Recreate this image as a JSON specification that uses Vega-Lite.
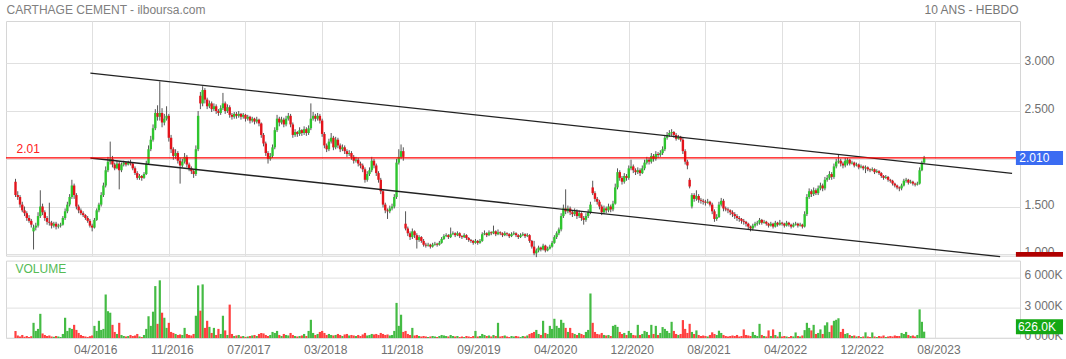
{
"$schema":"https://vega.github.io/schema/vega-lite/v6.json",
"padding":{"left":4,"top":3,"right":0,"bottom":0},
"background":"white",
"bounds":"flush",
"spacing":4.6,
"resolve":{"scale":{"x":"independent","y":"independent"}},
"config":{"font":"Liberation Sans","view":{"stroke":"#d6d6d6"},
"axis":{"gridColor":"#e0e0e0","labelColor":"#707070","labelFontSize":12,"labelFont":"Liberation Sans","domain":false,"ticks":false,"tickSize":0,"titleFontWeight":"normal","titleColor":"#777777","titleFontSize":12,"titleFont":"Liberation Sans","labelOverlap":false,"labelFlush":false,"labelSeparation":0,"labelBound":false}},
"datasets":{"one":[{"k":1}],"px":[
{"i":0,"o":1.76,"h":1.79,"l":1.6,"c":1.62,"v":690},
{"i":1,"o":1.62,"h":1.66,"l":1.57,"c":1.6,"v":250},
{"i":2,"o":1.6,"h":1.62,"l":1.49,"c":1.52,"v":150},
{"i":3,"o":1.52,"h":1.55,"l":1.44,"c":1.46,"v":300},
{"i":4,"o":1.46,"h":1.5,"l":1.4,"c":1.43,"v":120},
{"i":5,"o":1.43,"h":1.45,"l":1.35,"c":1.38,"v":200},
{"i":6,"o":1.38,"h":1.41,"l":1.33,"c":1.35,"v":100},
{"i":7,"o":1.35,"h":1.37,"l":1.28,"c":1.31,"v":180},
{"i":8,"o":1.24,"h":1.31,"l":1.05,"c":1.28,"v":1500},
{"i":9,"o":1.28,"h":1.33,"l":1.25,"c":1.3,"v":700},
{"i":10,"o":1.3,"h":1.44,"l":1.28,"c":1.4,"v":900},
{"i":11,"o":1.4,"h":1.67,"l":1.38,"c":1.5,"v":2390},
{"i":12,"o":1.5,"h":1.53,"l":1.41,"c":1.44,"v":450},
{"i":13,"o":1.44,"h":1.46,"l":1.35,"c":1.38,"v":300},
{"i":14,"o":1.38,"h":1.4,"l":1.31,"c":1.34,"v":200},
{"i":15,"o":1.34,"h":1.54,"l":1.3,"c":1.33,"v":250},
{"i":16,"o":1.33,"h":1.35,"l":1.27,"c":1.3,"v":150},
{"i":17,"o":1.3,"h":1.34,"l":1.28,"c":1.32,"v":120},
{"i":18,"o":1.32,"h":1.34,"l":1.26,"c":1.29,"v":200},
{"i":19,"o":1.29,"h":1.32,"l":1.27,"c":1.3,"v":150},
{"i":20,"o":1.3,"h":1.33,"l":1.28,"c":1.31,"v":100},
{"i":21,"o":1.31,"h":1.4,"l":1.3,"c":1.38,"v":400},
{"i":22,"o":1.38,"h":1.48,"l":1.36,"c":1.45,"v":2000},
{"i":23,"o":1.45,"h":1.55,"l":1.43,"c":1.52,"v":700},
{"i":24,"o":1.52,"h":1.63,"l":1.5,"c":1.6,"v":1000},
{"i":25,"o":1.6,"h":1.78,"l":1.58,"c":1.72,"v":900},
{"i":26,"o":1.72,"h":1.74,"l":1.58,"c":1.62,"v":1300},
{"i":27,"o":1.62,"h":1.64,"l":1.47,"c":1.5,"v":800},
{"i":28,"o":1.5,"h":1.52,"l":1.43,"c":1.46,"v":500},
{"i":29,"o":1.46,"h":1.48,"l":1.41,"c":1.43,"v":300},
{"i":30,"o":1.43,"h":1.45,"l":1.39,"c":1.41,"v":200},
{"i":31,"o":1.41,"h":1.42,"l":1.36,"c":1.38,"v":150},
{"i":32,"o":1.38,"h":1.4,"l":1.33,"c":1.35,"v":100},
{"i":33,"o":1.35,"h":1.37,"l":1.28,"c":1.3,"v":180},
{"i":34,"o":1.3,"h":1.32,"l":1.24,"c":1.28,"v":250},
{"i":35,"o":1.28,"h":1.38,"l":1.27,"c":1.36,"v":1200},
{"i":36,"o":1.36,"h":1.48,"l":1.35,"c":1.46,"v":700},
{"i":37,"o":1.46,"h":1.54,"l":1.44,"c":1.52,"v":1700},
{"i":38,"o":1.52,"h":1.65,"l":1.5,"c":1.62,"v":800},
{"i":39,"o":1.62,"h":1.75,"l":1.6,"c":1.72,"v":900},
{"i":40,"o":1.72,"h":1.92,"l":1.7,"c":1.88,"v":4300},
{"i":41,"o":1.88,"h":2.02,"l":1.86,"c":1.97,"v":2650},
{"i":42,"o":1.97,"h":2.18,"l":1.94,"c":2.0,"v":2500},
{"i":43,"o":2.0,"h":2.03,"l":1.91,"c":1.94,"v":1300},
{"i":44,"o":1.94,"h":1.96,"l":1.88,"c":1.9,"v":600},
{"i":45,"o":1.9,"h":1.98,"l":1.89,"c":1.95,"v":400},
{"i":46,"o":1.95,"h":1.97,"l":1.68,"c":1.88,"v":1500},
{"i":47,"o":1.88,"h":1.96,"l":1.86,"c":1.94,"v":300},
{"i":48,"o":1.94,"h":1.98,"l":1.92,"c":1.96,"v":200},
{"i":49,"o":1.96,"h":1.97,"l":1.92,"c":1.94,"v":150},
{"i":50,"o":1.94,"h":1.98,"l":1.93,"c":1.96,"v":200},
{"i":51,"o":1.96,"h":1.99,"l":1.93,"c":1.95,"v":300},
{"i":52,"o":1.95,"h":1.96,"l":1.88,"c":1.9,"v":200},
{"i":53,"o":1.9,"h":1.92,"l":1.83,"c":1.85,"v":250},
{"i":54,"o":1.85,"h":1.87,"l":1.78,"c":1.8,"v":400},
{"i":55,"o":1.8,"h":1.84,"l":1.78,"c":1.82,"v":150},
{"i":56,"o":1.82,"h":1.83,"l":1.77,"c":1.8,"v":100},
{"i":57,"o":1.8,"h":1.86,"l":1.79,"c":1.84,"v":300},
{"i":58,"o":1.84,"h":1.98,"l":1.83,"c":1.95,"v":900},
{"i":59,"o":1.95,"h":2.14,"l":1.94,"c":2.1,"v":2150},
{"i":60,"o":2.1,"h":2.24,"l":2.08,"c":2.2,"v":1200},
{"i":61,"o":2.2,"h":2.36,"l":2.18,"c":2.32,"v":2600},
{"i":62,"o":2.32,"h":2.52,"l":2.3,"c":2.48,"v":5130},
{"i":63,"o":2.48,"h":2.56,"l":2.4,"c":2.44,"v":1400},
{"i":64,"o":2.44,"h":2.81,"l":2.4,"c":2.48,"v":5700},
{"i":65,"o":2.48,"h":2.53,"l":2.33,"c":2.38,"v":2500},
{"i":66,"o":2.38,"h":2.47,"l":2.35,"c":2.42,"v":2000},
{"i":67,"o":2.42,"h":2.55,"l":2.4,"c":2.45,"v":1000},
{"i":68,"o":2.45,"h":2.47,"l":2.18,"c":2.22,"v":1500},
{"i":69,"o":2.22,"h":2.25,"l":2.06,"c":2.1,"v":600},
{"i":70,"o":2.1,"h":2.12,"l":1.99,"c":2.03,"v":500},
{"i":71,"o":2.03,"h":2.1,"l":2.0,"c":2.06,"v":400},
{"i":72,"o":2.06,"h":2.08,"l":1.95,"c":1.98,"v":300},
{"i":73,"o":1.98,"h":2.01,"l":1.74,"c":1.93,"v":350},
{"i":74,"o":1.93,"h":2.0,"l":1.91,"c":1.97,"v":300},
{"i":75,"o":1.97,"h":2.06,"l":1.95,"c":2.02,"v":1000},
{"i":76,"o":2.02,"h":2.04,"l":1.91,"c":1.94,"v":400},
{"i":77,"o":1.94,"h":1.96,"l":1.87,"c":1.9,"v":300},
{"i":78,"o":1.9,"h":1.92,"l":1.84,"c":1.87,"v":250},
{"i":79,"o":1.87,"h":1.89,"l":1.8,"c":1.84,"v":400},
{"i":80,"o":1.84,"h":2.14,"l":1.82,"c":2.1,"v":2200},
{"i":81,"o":2.1,"h":2.5,"l":2.08,"c":2.45,"v":5200},
{"i":82,"o":2.66,"h":2.7,"l":2.52,"c":2.58,"v":2700},
{"i":83,"o":2.58,"h":2.76,"l":2.55,"c":2.72,"v":5300},
{"i":84,"o":2.72,"h":2.74,"l":2.58,"c":2.62,"v":1000},
{"i":85,"o":2.62,"h":2.64,"l":2.52,"c":2.55,"v":1700},
{"i":86,"o":2.55,"h":2.61,"l":2.53,"c":2.58,"v":1100},
{"i":87,"o":2.58,"h":2.6,"l":2.49,"c":2.52,"v":500},
{"i":88,"o":2.52,"h":2.58,"l":2.5,"c":2.55,"v":1000},
{"i":89,"o":2.55,"h":2.57,"l":2.47,"c":2.5,"v":300},
{"i":90,"o":2.5,"h":2.52,"l":2.45,"c":2.48,"v":900},
{"i":91,"o":2.48,"h":2.56,"l":2.46,"c":2.53,"v":400},
{"i":92,"o":2.53,"h":2.69,"l":2.51,"c":2.58,"v":2200},
{"i":93,"o":2.58,"h":2.6,"l":2.47,"c":2.5,"v":750},
{"i":94,"o":2.5,"h":2.57,"l":2.48,"c":2.54,"v":300},
{"i":95,"o":2.54,"h":2.56,"l":2.43,"c":2.46,"v":3300},
{"i":96,"o":2.46,"h":2.48,"l":2.41,"c":2.44,"v":400},
{"i":97,"o":2.44,"h":2.49,"l":2.42,"c":2.47,"v":200},
{"i":98,"o":2.47,"h":2.49,"l":2.42,"c":2.45,"v":250},
{"i":99,"o":2.45,"h":2.5,"l":2.43,"c":2.47,"v":300},
{"i":100,"o":2.47,"h":2.48,"l":2.41,"c":2.44,"v":150},
{"i":101,"o":2.44,"h":2.48,"l":2.42,"c":2.46,"v":200},
{"i":102,"o":2.46,"h":2.47,"l":2.39,"c":2.42,"v":100},
{"i":103,"o":2.42,"h":2.46,"l":2.4,"c":2.44,"v":150},
{"i":104,"o":2.44,"h":2.45,"l":2.37,"c":2.4,"v":200},
{"i":105,"o":2.4,"h":2.44,"l":2.38,"c":2.42,"v":250},
{"i":106,"o":2.42,"h":2.43,"l":2.36,"c":2.39,"v":300},
{"i":107,"o":2.39,"h":2.44,"l":2.37,"c":2.41,"v":200},
{"i":108,"o":2.41,"h":2.42,"l":2.34,"c":2.37,"v":400},
{"i":109,"o":2.37,"h":2.38,"l":2.22,"c":2.25,"v":500},
{"i":110,"o":2.25,"h":2.27,"l":2.13,"c":2.16,"v":450},
{"i":111,"o":2.16,"h":2.18,"l":2.03,"c":2.06,"v":300},
{"i":112,"o":2.06,"h":2.08,"l":1.95,"c":2.0,"v":200},
{"i":113,"o":2.0,"h":2.06,"l":1.98,"c":2.03,"v":300},
{"i":114,"o":2.03,"h":2.15,"l":2.01,"c":2.12,"v":600},
{"i":115,"o":2.12,"h":2.33,"l":2.1,"c":2.3,"v":500},
{"i":116,"o":2.3,"h":2.46,"l":2.28,"c":2.42,"v":700},
{"i":117,"o":2.42,"h":2.44,"l":2.34,"c":2.38,"v":300},
{"i":118,"o":2.38,"h":2.44,"l":2.36,"c":2.41,"v":200},
{"i":119,"o":2.41,"h":2.43,"l":2.33,"c":2.36,"v":400},
{"i":120,"o":2.36,"h":2.45,"l":2.34,"c":2.42,"v":300},
{"i":121,"o":2.42,"h":2.48,"l":2.4,"c":2.45,"v":250},
{"i":122,"o":2.45,"h":2.47,"l":2.33,"c":2.36,"v":500},
{"i":123,"o":2.36,"h":2.38,"l":2.22,"c":2.25,"v":300},
{"i":124,"o":2.25,"h":2.31,"l":2.23,"c":2.28,"v":200},
{"i":125,"o":2.28,"h":2.29,"l":2.23,"c":2.26,"v":150},
{"i":126,"o":2.26,"h":2.33,"l":2.24,"c":2.3,"v":200},
{"i":127,"o":2.3,"h":2.31,"l":2.24,"c":2.27,"v":250},
{"i":128,"o":2.27,"h":2.34,"l":2.25,"c":2.31,"v":400},
{"i":129,"o":2.31,"h":2.33,"l":2.24,"c":2.27,"v":200},
{"i":130,"o":2.27,"h":2.35,"l":2.25,"c":2.32,"v":700},
{"i":131,"o":2.32,"h":2.58,"l":2.3,"c":2.42,"v":1800},
{"i":132,"o":2.42,"h":2.49,"l":2.4,"c":2.45,"v":500},
{"i":133,"o":2.45,"h":2.47,"l":2.39,"c":2.42,"v":300},
{"i":134,"o":2.42,"h":2.48,"l":2.4,"c":2.45,"v":400},
{"i":135,"o":2.45,"h":2.47,"l":2.37,"c":2.4,"v":600},
{"i":136,"o":2.4,"h":2.42,"l":2.23,"c":2.26,"v":700},
{"i":137,"o":2.26,"h":2.28,"l":2.11,"c":2.14,"v":500},
{"i":138,"o":2.14,"h":2.16,"l":2.07,"c":2.1,"v":300},
{"i":139,"o":2.1,"h":2.21,"l":2.08,"c":2.18,"v":400},
{"i":140,"o":2.18,"h":2.27,"l":2.16,"c":2.22,"v":300},
{"i":141,"o":2.22,"h":2.24,"l":2.09,"c":2.12,"v":250},
{"i":142,"o":2.12,"h":2.23,"l":2.1,"c":2.2,"v":300},
{"i":143,"o":2.2,"h":2.22,"l":2.11,"c":2.14,"v":400},
{"i":144,"o":2.14,"h":2.16,"l":2.07,"c":2.1,"v":300},
{"i":145,"o":2.1,"h":2.15,"l":2.08,"c":2.12,"v":200},
{"i":146,"o":2.12,"h":2.14,"l":2.05,"c":2.08,"v":350},
{"i":147,"o":2.08,"h":2.1,"l":2.02,"c":2.05,"v":400},
{"i":148,"o":2.05,"h":2.09,"l":2.03,"c":2.06,"v":250},
{"i":149,"o":2.06,"h":2.08,"l":1.99,"c":2.02,"v":300},
{"i":150,"o":2.02,"h":2.04,"l":1.95,"c":1.98,"v":250},
{"i":151,"o":1.98,"h":2.02,"l":1.96,"c":1.99,"v":200},
{"i":152,"o":1.99,"h":2.01,"l":1.92,"c":1.95,"v":300},
{"i":153,"o":1.95,"h":1.97,"l":1.9,"c":1.93,"v":200},
{"i":154,"o":1.93,"h":1.95,"l":1.86,"c":1.89,"v":350},
{"i":155,"o":1.89,"h":1.91,"l":1.75,"c":1.78,"v":500},
{"i":156,"o":1.78,"h":1.87,"l":1.76,"c":1.84,"v":250},
{"i":157,"o":1.84,"h":1.91,"l":1.82,"c":1.88,"v":300},
{"i":158,"o":1.88,"h":2.02,"l":1.86,"c":1.98,"v":400},
{"i":159,"o":1.98,"h":2.0,"l":1.9,"c":1.93,"v":350},
{"i":160,"o":1.93,"h":1.95,"l":1.82,"c":1.85,"v":400},
{"i":161,"o":1.85,"h":1.87,"l":1.75,"c":1.78,"v":300},
{"i":162,"o":1.78,"h":1.8,"l":1.63,"c":1.66,"v":500},
{"i":163,"o":1.66,"h":1.68,"l":1.49,"c":1.52,"v":400},
{"i":164,"o":1.52,"h":1.54,"l":1.43,"c":1.46,"v":300},
{"i":165,"o":1.46,"h":1.48,"l":1.37,"c":1.45,"v":350},
{"i":166,"o":1.45,"h":1.51,"l":1.43,"c":1.48,"v":250},
{"i":167,"o":1.48,"h":1.53,"l":1.46,"c":1.5,"v":300},
{"i":168,"o":1.5,"h":1.63,"l":1.48,"c":1.6,"v":700},
{"i":169,"o":1.6,"h":2.0,"l":1.58,"c":1.96,"v":3470},
{"i":170,"o":1.96,"h":2.1,"l":1.94,"c":2.02,"v":1200},
{"i":171,"o":2.02,"h":2.15,"l":2.0,"c":2.08,"v":2300},
{"i":172,"o":2.08,"h":2.12,"l":1.98,"c":2.02,"v":600},
{"i":173,"o":1.32,"h":1.45,"l":1.25,"c":1.27,"v":700},
{"i":174,"o":1.27,"h":1.29,"l":1.19,"c":1.22,"v":400},
{"i":175,"o":1.22,"h":1.24,"l":1.15,"c":1.18,"v":300},
{"i":176,"o":1.18,"h":1.27,"l":1.16,"c":1.24,"v":1000},
{"i":177,"o":1.24,"h":1.25,"l":1.17,"c":1.2,"v":250},
{"i":178,"o":1.2,"h":1.22,"l":1.06,"c":1.15,"v":300},
{"i":179,"o":1.15,"h":1.2,"l":1.13,"c":1.18,"v":200},
{"i":180,"o":1.18,"h":1.19,"l":1.12,"c":1.14,"v":150},
{"i":181,"o":1.14,"h":1.16,"l":1.08,"c":1.1,"v":200},
{"i":182,"o":1.1,"h":1.12,"l":1.07,"c":1.09,"v":150},
{"i":183,"o":1.09,"h":1.12,"l":1.08,"c":1.1,"v":100},
{"i":184,"o":1.1,"h":1.11,"l":1.06,"c":1.08,"v":150},
{"i":185,"o":1.08,"h":1.12,"l":1.07,"c":1.1,"v":200},
{"i":186,"o":1.1,"h":1.13,"l":1.09,"c":1.11,"v":150},
{"i":187,"o":1.11,"h":1.12,"l":1.08,"c":1.1,"v":100},
{"i":188,"o":1.1,"h":1.14,"l":1.09,"c":1.12,"v":200},
{"i":189,"o":1.12,"h":1.18,"l":1.11,"c":1.16,"v":300},
{"i":190,"o":1.16,"h":1.21,"l":1.15,"c":1.19,"v":250},
{"i":191,"o":1.19,"h":1.22,"l":1.18,"c":1.2,"v":200},
{"i":192,"o":1.2,"h":1.21,"l":1.16,"c":1.18,"v":150},
{"i":193,"o":1.18,"h":1.28,"l":1.17,"c":1.21,"v":300},
{"i":194,"o":1.21,"h":1.24,"l":1.2,"c":1.22,"v":200},
{"i":195,"o":1.22,"h":1.23,"l":1.18,"c":1.2,"v":150},
{"i":196,"o":1.2,"h":1.24,"l":1.19,"c":1.22,"v":200},
{"i":197,"o":1.22,"h":1.23,"l":1.17,"c":1.19,"v":100},
{"i":198,"o":1.19,"h":1.2,"l":1.16,"c":1.18,"v":150},
{"i":199,"o":1.18,"h":1.22,"l":1.17,"c":1.2,"v":100},
{"i":200,"o":1.2,"h":1.21,"l":1.15,"c":1.17,"v":200},
{"i":201,"o":1.17,"h":1.18,"l":1.13,"c":1.15,"v":150},
{"i":202,"o":1.15,"h":1.16,"l":1.12,"c":1.14,"v":100},
{"i":203,"o":1.14,"h":1.15,"l":1.1,"c":1.12,"v":200},
{"i":204,"o":1.12,"h":1.16,"l":1.11,"c":1.14,"v":700},
{"i":205,"o":1.14,"h":1.15,"l":1.1,"c":1.12,"v":150},
{"i":206,"o":1.12,"h":1.16,"l":1.11,"c":1.14,"v":200},
{"i":207,"o":1.14,"h":1.23,"l":1.13,"c":1.21,"v":400},
{"i":208,"o":1.21,"h":1.25,"l":1.2,"c":1.22,"v":300},
{"i":209,"o":1.22,"h":1.23,"l":1.18,"c":1.2,"v":200},
{"i":210,"o":1.2,"h":1.25,"l":1.19,"c":1.23,"v":250},
{"i":211,"o":1.23,"h":1.24,"l":1.2,"c":1.22,"v":150},
{"i":212,"o":1.22,"h":1.3,"l":1.21,"c":1.24,"v":300},
{"i":213,"o":1.24,"h":1.25,"l":1.19,"c":1.21,"v":200},
{"i":214,"o":1.21,"h":1.26,"l":1.2,"c":1.23,"v":1500},
{"i":215,"o":1.23,"h":1.24,"l":1.2,"c":1.22,"v":150},
{"i":216,"o":1.22,"h":1.23,"l":1.18,"c":1.2,"v":200},
{"i":217,"o":1.2,"h":1.24,"l":1.19,"c":1.22,"v":250},
{"i":218,"o":1.22,"h":1.23,"l":1.19,"c":1.21,"v":150},
{"i":219,"o":1.21,"h":1.22,"l":1.17,"c":1.19,"v":100},
{"i":220,"o":1.19,"h":1.23,"l":1.18,"c":1.21,"v":200},
{"i":221,"o":1.21,"h":1.24,"l":1.2,"c":1.22,"v":150},
{"i":222,"o":1.22,"h":1.23,"l":1.18,"c":1.2,"v":200},
{"i":223,"o":1.2,"h":1.21,"l":1.16,"c":1.18,"v":150},
{"i":224,"o":1.18,"h":1.22,"l":1.17,"c":1.2,"v":100},
{"i":225,"o":1.2,"h":1.23,"l":1.19,"c":1.21,"v":200},
{"i":226,"o":1.21,"h":1.22,"l":1.17,"c":1.19,"v":150},
{"i":227,"o":1.19,"h":1.22,"l":1.18,"c":1.2,"v":250},
{"i":228,"o":1.2,"h":1.21,"l":1.12,"c":1.14,"v":400},
{"i":229,"o":1.14,"h":1.15,"l":1.06,"c":1.08,"v":500},
{"i":230,"o":1.08,"h":1.14,"l":0.99,"c":1.01,"v":600},
{"i":231,"o":1.01,"h":1.06,"l":0.97,"c":1.04,"v":800},
{"i":232,"o":1.04,"h":1.09,"l":1.02,"c":1.07,"v":400},
{"i":233,"o":1.07,"h":1.08,"l":1.03,"c":1.05,"v":300},
{"i":234,"o":1.05,"h":1.11,"l":1.04,"c":1.09,"v":1700},
{"i":235,"o":1.09,"h":1.1,"l":1.02,"c":1.04,"v":500},
{"i":236,"o":1.04,"h":1.08,"l":1.03,"c":1.06,"v":400},
{"i":237,"o":1.06,"h":1.1,"l":1.05,"c":1.08,"v":1200},
{"i":238,"o":1.08,"h":1.14,"l":1.07,"c":1.12,"v":900},
{"i":239,"o":1.12,"h":1.2,"l":1.11,"c":1.18,"v":1900},
{"i":240,"o":1.18,"h":1.24,"l":1.16,"c":1.22,"v":1200},
{"i":241,"o":1.22,"h":1.28,"l":1.2,"c":1.26,"v":1000},
{"i":242,"o":1.26,"h":1.43,"l":1.24,"c":1.4,"v":1800},
{"i":243,"o":1.4,"h":1.52,"l":1.38,"c":1.48,"v":1500},
{"i":244,"o":1.48,"h":1.68,"l":1.42,"c":1.45,"v":1000},
{"i":245,"o":1.45,"h":1.51,"l":1.43,"c":1.48,"v":600},
{"i":246,"o":1.48,"h":1.5,"l":1.41,"c":1.44,"v":1000},
{"i":247,"o":1.44,"h":1.46,"l":1.39,"c":1.42,"v":500},
{"i":248,"o":1.42,"h":1.48,"l":1.4,"c":1.45,"v":400},
{"i":249,"o":1.45,"h":1.47,"l":1.37,"c":1.4,"v":300},
{"i":250,"o":1.4,"h":1.46,"l":1.38,"c":1.43,"v":500},
{"i":251,"o":1.43,"h":1.44,"l":1.35,"c":1.38,"v":400},
{"i":252,"o":1.38,"h":1.4,"l":1.31,"c":1.36,"v":300},
{"i":253,"o":1.36,"h":1.43,"l":1.34,"c":1.4,"v":600},
{"i":254,"o":1.4,"h":1.47,"l":1.38,"c":1.44,"v":800},
{"i":255,"o":1.44,"h":1.55,"l":1.42,"c":1.52,"v":4400},
{"i":256,"o":1.7,"h":1.77,"l":1.62,"c":1.64,"v":1500},
{"i":257,"o":1.64,"h":1.66,"l":1.55,"c":1.58,"v":600},
{"i":258,"o":1.58,"h":1.6,"l":1.52,"c":1.55,"v":400},
{"i":259,"o":1.55,"h":1.57,"l":1.47,"c":1.5,"v":350},
{"i":260,"o":1.5,"h":1.52,"l":1.41,"c":1.44,"v":500},
{"i":261,"o":1.44,"h":1.51,"l":1.42,"c":1.48,"v":300},
{"i":262,"o":1.48,"h":1.5,"l":1.43,"c":1.46,"v":250},
{"i":263,"o":1.46,"h":1.53,"l":1.44,"c":1.5,"v":300},
{"i":264,"o":1.5,"h":1.52,"l":1.44,"c":1.47,"v":200},
{"i":265,"o":1.47,"h":1.56,"l":1.45,"c":1.53,"v":1200},
{"i":266,"o":1.53,"h":1.74,"l":1.52,"c":1.7,"v":1300},
{"i":267,"o":1.7,"h":1.9,"l":1.68,"c":1.86,"v":1100},
{"i":268,"o":1.86,"h":1.88,"l":1.77,"c":1.8,"v":600},
{"i":269,"o":1.8,"h":1.82,"l":1.73,"c":1.76,"v":400},
{"i":270,"o":1.76,"h":1.85,"l":1.74,"c":1.82,"v":500},
{"i":271,"o":1.82,"h":1.84,"l":1.77,"c":1.8,"v":300},
{"i":272,"o":1.8,"h":1.93,"l":1.78,"c":1.9,"v":700},
{"i":273,"o":1.9,"h":1.99,"l":1.88,"c":1.92,"v":500},
{"i":274,"o":1.92,"h":1.94,"l":1.85,"c":1.88,"v":300},
{"i":275,"o":1.88,"h":1.9,"l":1.83,"c":1.86,"v":250},
{"i":276,"o":1.86,"h":1.91,"l":1.84,"c":1.88,"v":1300},
{"i":277,"o":1.88,"h":1.9,"l":1.82,"c":1.85,"v":300},
{"i":278,"o":1.85,"h":1.93,"l":1.84,"c":1.9,"v":400},
{"i":279,"o":1.9,"h":1.99,"l":1.88,"c":1.96,"v":700},
{"i":280,"o":1.96,"h":2.02,"l":1.94,"c":1.99,"v":600},
{"i":281,"o":1.99,"h":2.01,"l":1.94,"c":1.97,"v":300},
{"i":282,"o":1.97,"h":2.06,"l":1.95,"c":2.03,"v":1300},
{"i":283,"o":2.03,"h":2.05,"l":1.97,"c":2.0,"v":400},
{"i":284,"o":2.0,"h":2.08,"l":1.98,"c":2.05,"v":1200},
{"i":285,"o":2.05,"h":2.07,"l":2.01,"c":2.04,"v":300},
{"i":286,"o":2.04,"h":2.09,"l":2.02,"c":2.06,"v":500},
{"i":287,"o":2.06,"h":2.13,"l":2.04,"c":2.1,"v":1080},
{"i":288,"o":2.1,"h":2.25,"l":2.08,"c":2.22,"v":900},
{"i":289,"o":2.22,"h":2.28,"l":2.2,"c":2.25,"v":700},
{"i":290,"o":2.25,"h":2.3,"l":2.23,"c":2.27,"v":500},
{"i":291,"o":2.27,"h":2.31,"l":2.24,"c":2.28,"v":1600},
{"i":292,"o":2.28,"h":2.29,"l":2.22,"c":2.25,"v":700},
{"i":293,"o":2.25,"h":2.27,"l":2.19,"c":2.21,"v":400},
{"i":294,"o":2.21,"h":2.25,"l":2.2,"c":2.23,"v":300},
{"i":295,"o":2.23,"h":2.24,"l":2.18,"c":2.2,"v":400},
{"i":296,"o":2.2,"h":2.22,"l":2.05,"c":2.08,"v":1770},
{"i":297,"o":2.08,"h":2.1,"l":1.94,"c":1.97,"v":900},
{"i":298,"o":1.97,"h":1.99,"l":1.89,"c":1.93,"v":500},
{"i":299,"o":1.78,"h":1.8,"l":1.69,"c":1.71,"v":1400},
{"i":300,"o":1.5,"h":1.64,"l":1.48,"c":1.62,"v":600},
{"i":301,"o":1.62,"h":1.64,"l":1.55,"c":1.58,"v":400},
{"i":302,"o":1.58,"h":1.67,"l":1.56,"c":1.61,"v":750},
{"i":303,"o":1.61,"h":1.63,"l":1.54,"c":1.57,"v":300},
{"i":304,"o":1.57,"h":1.59,"l":1.53,"c":1.56,"v":200},
{"i":305,"o":1.56,"h":1.58,"l":1.52,"c":1.55,"v":250},
{"i":306,"o":1.55,"h":1.57,"l":1.51,"c":1.54,"v":200},
{"i":307,"o":1.54,"h":1.58,"l":1.53,"c":1.55,"v":150},
{"i":308,"o":1.55,"h":1.56,"l":1.5,"c":1.52,"v":300},
{"i":309,"o":1.52,"h":1.54,"l":1.42,"c":1.45,"v":560},
{"i":310,"o":1.45,"h":1.47,"l":1.34,"c":1.37,"v":400},
{"i":311,"o":1.37,"h":1.42,"l":1.35,"c":1.39,"v":300},
{"i":312,"o":1.39,"h":1.55,"l":1.38,"c":1.52,"v":720},
{"i":313,"o":1.52,"h":1.59,"l":1.5,"c":1.56,"v":500},
{"i":314,"o":1.56,"h":1.58,"l":1.45,"c":1.48,"v":300},
{"i":315,"o":1.48,"h":1.5,"l":1.45,"c":1.47,"v":200},
{"i":316,"o":1.47,"h":1.49,"l":1.43,"c":1.46,"v":150},
{"i":317,"o":1.46,"h":1.47,"l":1.41,"c":1.44,"v":200},
{"i":318,"o":1.44,"h":1.46,"l":1.39,"c":1.42,"v":250},
{"i":319,"o":1.42,"h":1.44,"l":1.37,"c":1.4,"v":200},
{"i":320,"o":1.4,"h":1.42,"l":1.35,"c":1.38,"v":300},
{"i":321,"o":1.38,"h":1.4,"l":1.34,"c":1.37,"v":150},
{"i":322,"o":1.37,"h":1.38,"l":1.32,"c":1.35,"v":200},
{"i":323,"o":1.35,"h":1.37,"l":1.31,"c":1.34,"v":850},
{"i":324,"o":1.34,"h":1.35,"l":1.29,"c":1.32,"v":300},
{"i":325,"o":1.32,"h":1.33,"l":1.26,"c":1.29,"v":250},
{"i":326,"o":1.29,"h":1.3,"l":1.24,"c":1.27,"v":200},
{"i":327,"o":1.27,"h":1.32,"l":1.25,"c":1.3,"v":600},
{"i":328,"o":1.3,"h":1.34,"l":1.28,"c":1.32,"v":300},
{"i":329,"o":1.32,"h":1.35,"l":1.3,"c":1.33,"v":200},
{"i":330,"o":1.33,"h":1.38,"l":1.31,"c":1.36,"v":1400},
{"i":331,"o":1.36,"h":1.37,"l":1.31,"c":1.33,"v":300},
{"i":332,"o":1.33,"h":1.36,"l":1.32,"c":1.34,"v":200},
{"i":333,"o":1.34,"h":1.35,"l":1.3,"c":1.32,"v":150},
{"i":334,"o":1.32,"h":1.33,"l":1.28,"c":1.3,"v":750},
{"i":335,"o":1.3,"h":1.34,"l":1.29,"c":1.32,"v":200},
{"i":336,"o":1.32,"h":1.33,"l":1.27,"c":1.29,"v":850},
{"i":337,"o":1.29,"h":1.35,"l":1.28,"c":1.33,"v":300},
{"i":338,"o":1.33,"h":1.34,"l":1.29,"c":1.31,"v":150},
{"i":339,"o":1.31,"h":1.36,"l":1.3,"c":1.33,"v":600},
{"i":340,"o":1.33,"h":1.34,"l":1.3,"c":1.32,"v":150},
{"i":341,"o":1.32,"h":1.33,"l":1.28,"c":1.3,"v":200},
{"i":342,"o":1.3,"h":1.35,"l":1.29,"c":1.33,"v":150},
{"i":343,"o":1.33,"h":1.34,"l":1.29,"c":1.31,"v":100},
{"i":344,"o":1.31,"h":1.32,"l":1.27,"c":1.29,"v":200},
{"i":345,"o":1.29,"h":1.33,"l":1.28,"c":1.31,"v":150},
{"i":346,"o":1.31,"h":1.34,"l":1.3,"c":1.32,"v":550},
{"i":347,"o":1.32,"h":1.33,"l":1.28,"c":1.3,"v":200},
{"i":348,"o":1.3,"h":1.33,"l":1.29,"c":1.31,"v":150},
{"i":349,"o":1.31,"h":1.32,"l":1.27,"c":1.29,"v":250},
{"i":350,"o":1.29,"h":1.45,"l":1.28,"c":1.42,"v":780},
{"i":351,"o":1.42,"h":1.63,"l":1.4,"c":1.6,"v":1500},
{"i":352,"o":1.6,"h":1.69,"l":1.58,"c":1.66,"v":1000},
{"i":353,"o":1.66,"h":1.68,"l":1.6,"c":1.63,"v":750},
{"i":354,"o":1.63,"h":1.7,"l":1.61,"c":1.67,"v":1300},
{"i":355,"o":1.67,"h":1.69,"l":1.62,"c":1.64,"v":400},
{"i":356,"o":1.64,"h":1.72,"l":1.62,"c":1.69,"v":500},
{"i":357,"o":1.69,"h":1.75,"l":1.67,"c":1.72,"v":850},
{"i":358,"o":1.72,"h":1.74,"l":1.66,"c":1.69,"v":400},
{"i":359,"o":1.69,"h":1.81,"l":1.67,"c":1.78,"v":1250},
{"i":360,"o":1.78,"h":1.83,"l":1.76,"c":1.8,"v":1550},
{"i":361,"o":1.8,"h":1.87,"l":1.78,"c":1.84,"v":600},
{"i":362,"o":1.84,"h":1.86,"l":1.78,"c":1.81,"v":1250},
{"i":363,"o":1.81,"h":1.95,"l":1.79,"c":1.92,"v":1700},
{"i":364,"o":1.92,"h":2.0,"l":1.9,"c":1.97,"v":1800},
{"i":365,"o":1.97,"h":2.05,"l":1.95,"c":1.98,"v":1950},
{"i":366,"o":1.98,"h":2.0,"l":1.92,"c":1.95,"v":600},
{"i":367,"o":1.95,"h":1.97,"l":1.9,"c":1.93,"v":900},
{"i":368,"o":1.93,"h":2.01,"l":1.91,"c":1.98,"v":400},
{"i":369,"o":1.95,"h":2.01,"l":1.93,"c":1.99,"v":480},
{"i":370,"o":1.99,"h":2.0,"l":1.93,"c":1.95,"v":300},
{"i":371,"o":1.95,"h":1.98,"l":1.94,"c":1.96,"v":200},
{"i":372,"o":1.96,"h":1.97,"l":1.91,"c":1.93,"v":250},
{"i":373,"o":1.93,"h":1.96,"l":1.92,"c":1.94,"v":150},
{"i":374,"o":1.94,"h":1.95,"l":1.89,"c":1.91,"v":200},
{"i":375,"o":1.91,"h":1.94,"l":1.9,"c":1.92,"v":100},
{"i":376,"o":1.92,"h":1.93,"l":1.88,"c":1.9,"v":150},
{"i":377,"o":1.9,"h":1.93,"l":1.85,"c":1.91,"v":560},
{"i":378,"o":1.91,"h":1.92,"l":1.87,"c":1.89,"v":150},
{"i":379,"o":1.89,"h":1.9,"l":1.86,"c":1.88,"v":100},
{"i":380,"o":1.88,"h":1.91,"l":1.87,"c":1.89,"v":550},
{"i":381,"o":1.89,"h":1.9,"l":1.84,"c":1.86,"v":150},
{"i":382,"o":1.86,"h":1.89,"l":1.85,"c":1.87,"v":100},
{"i":383,"o":1.87,"h":1.88,"l":1.83,"c":1.85,"v":200},
{"i":384,"o":1.85,"h":1.86,"l":1.8,"c":1.82,"v":150},
{"i":385,"o":1.82,"h":1.83,"l":1.78,"c":1.8,"v":250},
{"i":386,"o":1.8,"h":1.83,"l":1.79,"c":1.81,"v":100},
{"i":387,"o":1.81,"h":1.82,"l":1.76,"c":1.78,"v":150},
{"i":388,"o":1.78,"h":1.79,"l":1.75,"c":1.77,"v":200},
{"i":389,"o":1.77,"h":1.78,"l":1.72,"c":1.74,"v":150},
{"i":390,"o":1.74,"h":1.75,"l":1.7,"c":1.72,"v":250},
{"i":391,"o":1.72,"h":1.73,"l":1.68,"c":1.7,"v":200},
{"i":392,"o":1.7,"h":1.71,"l":1.66,"c":1.69,"v":200},
{"i":393,"o":1.69,"h":1.74,"l":1.67,"c":1.72,"v":500},
{"i":394,"o":1.72,"h":1.79,"l":1.71,"c":1.77,"v":400},
{"i":395,"o":1.77,"h":1.8,"l":1.75,"c":1.78,"v":600},
{"i":396,"o":1.78,"h":1.79,"l":1.73,"c":1.75,"v":300},
{"i":397,"o":1.75,"h":1.78,"l":1.74,"c":1.76,"v":200},
{"i":398,"o":1.76,"h":1.77,"l":1.72,"c":1.74,"v":250},
{"i":399,"o":1.74,"h":1.75,"l":1.71,"c":1.73,"v":150},
{"i":400,"o":1.73,"h":1.76,"l":1.72,"c":1.74,"v":300},
{"i":401,"o":1.74,"h":1.91,"l":1.73,"c":1.88,"v":2830},
{"i":402,"o":1.88,"h":1.98,"l":1.87,"c":1.96,"v":1600},
{"i":403,"o":1.96,"h":2.03,"l":1.95,"c":2.01,"v":626}
]},
"vconcat":[
{"width":1014,"height":234.7,
"resolve":{"axis":{"x":"independent","y":"independent"}},
"layer":[
{"data":{"name":"px"},"mark":{"type":"rule","color":"#555555","strokeWidth":1},
"encoding":{
"x":{"field":"i","type":"quantitative","scale":{"domain":[-2,443.3],"nice":false,"zero":false},
"axis":{"orient":"top","values":[34,68,102,136,170,204,238,272,306,340,374,408],"labels":false,"grid":true,"title":"CARTHAGE CEMENT - ilboursa.com","titleX":0,"titleY":-7.5,"titleAlign":"left","titleAnchor":"start","titleBaseline":"alphabetic","titleColor":"#808080"}},
"y":{"field":"l","type":"quantitative","scale":{"domain":[0.985,3.443],"nice":false,"zero":false},
"axis":{"orient":"right","values":[1,1.5,2,2.5,3],"format":".3f","grid":true,"labelOverlap":false,"labelPadding":4,"labelOffset":-2.5,"labelBaseline":"middle","labelAlign":"left","title":"10 ANS - HEBDO","titleAngle":0,"titleX":-2,"titleY":-7.5,"titleAlign":"right","titleBaseline":"alphabetic"}},
"y2":{"field":"h"}}},
{"data":{"name":"px"},"mark":{"type":"bar","size":2.4},
"encoding":{"x":{"field":"i","type":"quantitative","axis":null},"y":{"field":"o","type":"quantitative","axis":null},"y2":{"field":"c"},
"color":{"condition":{"test":"datum.c >= datum.o","value":"#2fc52f"},"value":"#e3131b"}}},
{"data":{"values":[{"g":"a","i":33.2,"p":2.898},{"g":"a","i":442,"p":1.848},{"g":"b","i":33.2,"p":2.008},{"g":"b","i":436.7,"p":0.975}]},
"mark":{"type":"line","color":"#222222","strokeWidth":1.3,"clip":false},
"encoding":{"x":{"field":"i","type":"quantitative","axis":null},"y":{"field":"p","type":"quantitative","axis":null},"detail":{"field":"g"}}},
{"data":{"name":"one"},"mark":{"type":"rule","color":"#ff0000","strokeWidth":1.3},"encoding":{"y":{"datum":2.01,"type":"quantitative","axis":null}}},
{"data":{"name":"one"},"mark":{"type":"text","align":"left","baseline":"alphabetic","dy":-5,"dx":1,"color":"#ff2020","fontSize":12},
"encoding":{"x":{"datum":0,"type":"quantitative","axis":null},"y":{"datum":2.01,"type":"quantitative","axis":null},"text":{"value":"2.01"}}},
{"data":{"name":"one"},"mark":{"type":"rect","color":"#3b6cf2","clip":false},
"encoding":{"x":{"datum":443.7,"type":"quantitative","axis":null},"x2":{"datum":464.6},"y":{"datum":2.082,"type":"quantitative","axis":null},"y2":{"datum":1.935}}},
{"data":{"name":"one"},"mark":{"type":"text","align":"left","baseline":"middle","color":"white","fontSize":12,"clip":false},
"encoding":{"x":{"datum":445.2,"type":"quantitative","axis":null},"y":{"datum":2.008,"type":"quantitative","axis":null},"text":{"value":"2.010"}}},
{"data":{"name":"one"},"mark":{"type":"rect","color":"#b00000","clip":false},
"encoding":{"x":{"datum":443.7,"type":"quantitative","axis":null},"x2":{"datum":464.6},"y":{"datum":1.025,"type":"quantitative","axis":null},"y2":{"datum":0.975}}}
]},
{"width":1014,"height":77.4,
"resolve":{"axis":{"x":"independent","y":"independent"}},
"layer":[
{"data":{"name":"px"},"mark":{"type":"bar","size":2.2},
"encoding":{
"x":{"field":"i","type":"quantitative","scale":{"domain":[-2,443.3],"nice":false,"zero":false},
"axis":{"orient":"bottom","values":[34,68,102,136,170,204,238,272,306,340,374,408],"grid":true,"labelPadding":6,"labelOffset":3,"labelBaseline":"top","title":null,
"labelExpr":"['04/2016','11/2016','07/2017','03/2018','11/2018','09/2019','04/2020','12/2020','08/2021','04/2022','12/2022','08/2023'][round(datum.value/34)-1]"}},
"y":{"field":"v","type":"quantitative","scale":{"domain":[0,7650],"nice":false,"zero":false},
"axis":{"orient":"right","values":[0,3000,6000],"grid":true,"labelOverlap":false,"labelPadding":4,"labelOffset":-2.5,"labelBaseline":"middle","labelAlign":"left","title":null,
"labelExpr":"datum.value < 1500 ? '0 000K' : (datum.value < 4500 ? '3 000K' : '6 000K')"}},
"color":{"condition":{"test":"datum.c >= datum.o","value":"#44bb44"},"value":"#ff4040"}}},
{"data":{"name":"one"},"mark":{"type":"text","align":"left","baseline":"alphabetic","color":"#55bb55","fontSize":12},
"encoding":{"x":{"datum":0,"type":"quantitative","axis":null},"y":{"datum":6435,"type":"quantitative","axis":null},"text":{"value":"VOLUME"}}},
{"data":{"name":"one"},"mark":{"type":"rect","color":"#14a814","clip":false},
"encoding":{"x":{"datum":443.7,"type":"quantitative","axis":null},"x2":{"datum":464.6},"y":{"datum":1848,"type":"quantitative","axis":null},"y2":{"datum":366}}},
{"data":{"name":"one"},"mark":{"type":"text","align":"left","baseline":"middle","color":"white","fontSize":12,"clip":false},
"encoding":{"x":{"datum":444.6,"type":"quantitative","axis":null},"y":{"datum":1100,"type":"quantitative","axis":null},"text":{"value":"626.0K"}}}
]}
]
}
